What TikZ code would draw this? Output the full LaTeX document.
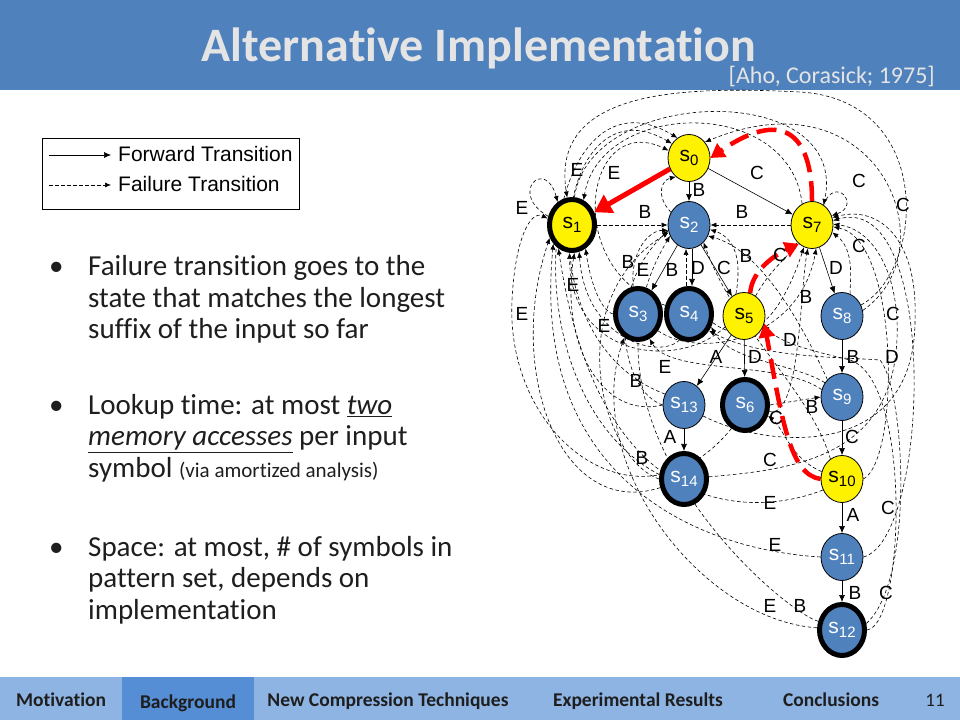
\documentclass[tikz,border=0pt]{standalone}
\usepackage{fontspec}
\setmainfont{Carlito}[Ligatures=NoCommon]
\newfontfamily\arial{Liberation Sans}
\usetikzlibrary{shapes.geometric,arrows.meta,backgrounds}
\pgfdeclarelayer{edges}
\pgfsetlayers{background,edges,main}
\definecolor{hdrblue}{RGB}{79,129,189}
\definecolor{nodeblue}{RGB}{79,129,189}
\definecolor{footblue}{RGB}{142,180,227}
\definecolor{footsel}{RGB}{85,142,213}
\definecolor{titlegray}{RGB}{228,228,228}
\definecolor{bodytext}{RGB}{30,30,30}
\newcommand{\fs}[1]{\fontsize{#1}{#1}\selectfont}
\newcommand{\stl}[1]{{\arial\fs{21}s\raisebox{-4pt}{\fs{15}#1}}}
\begin{document}
\begin{tikzpicture}[x=1pt,y=1pt,
 st/.style={ellipse, draw=black, line width=0.8pt, minimum width=42pt, minimum height=47pt, inner sep=0pt},
 yel/.style={st, fill=yellow},
 blu/.style={st, fill=nodeblue, text=white},
 acc/.style={line width=5pt, minimum width=45pt, minimum height=51pt},
 fw/.style={-{Latex[length=7pt,width=6pt]}, line width=0.6pt},
 fl/.style={-{Latex[length=6pt,width=5pt]}, dash pattern=on 3.5pt off 2.5pt, line width=0.6pt},
 lb/.style={font=\arial\fs{19}, inner sep=0pt},
 redd/.style={draw=red, line width=4.5pt, dash pattern=on 20pt off 9pt, -{Triangle[length=14pt,width=16pt]}},
 reds/.style={draw=red, line width=5pt, -{Triangle[length=17pt,width=20pt]}},
 btxt/.style={anchor=base west, inner sep=0pt, font=\fs{29}, text=bodytext},
 ftxt/.style={anchor=base, inner sep=0pt, font=\bfseries\fs{19.5}, text=bodytext}
]
\useasboundingbox (0,0) rectangle (960,720);
\begin{pgfonlayer}{background}
\fill[white] (0,0) rectangle (960,720);
\fill[hdrblue] (0,630) rectangle (960,720);
\fill[footblue] (0,0) rectangle (960,43);
\fill[footsel] (122,0) rectangle (254,43);
\end{pgfonlayer}
% header
\node[anchor=base, inner sep=0pt, font=\bfseries\fs{48}, text=titlegray] (title) at (479,658) {Alternative Implementation};
\node[anchor=base east, inner sep=0pt, font=\fs{24}, text=titlegray] (cite) at (935,636) {[Aho, Corasick; 1975]};
% footer
\node[ftxt] (f1) at (61,14) {Motivation};
\node[ftxt] (f2) at (188,12) {Background};
\node[ftxt] (f3) at (388,14) {New Compression Techniques};
\node[ftxt] (f4) at (638,14) {Experimental Results};
\node[ftxt] (f5) at (831,14) {Conclusions};
\node[anchor=base, inner sep=0pt, font=\fs{19}, text=bodytext] (f6) at (935,14) {11};
% legend
\node[draw, line width=0.8pt, minimum width=257pt, minimum height=71pt, anchor=north west, inner sep=0pt] (legend) at (42,582) {};
\coordinate (la1) at (49,565);
\coordinate (la2) at (111,565);
\coordinate (lb1) at (49,535);
\coordinate (lb2) at (111,535);
\draw[fw] (la1) -- (la2);
\draw[fl] (lb1) -- (lb2);
\node[anchor=base west, inner sep=0pt, font=\arial\fs{21}] (lt1) at (118,558) {Forward Transition};
\node[anchor=base west, inner sep=0pt, font=\arial\fs{21}] (lt2) at (118,528) {Failure Transition};
% bullets
\node[btxt] (b1) at (49,444) {\textbullet};
\node[btxt] (b2) at (49,305) {\textbullet};
\node[btxt] (b3) at (49,163) {\textbullet};
\node[btxt] (t1) at (88,444) {Failure transition goes to the};
\node[btxt] (t2) at (88,412) {state that matches the longest};
\node[btxt] (t3) at (88,381) {suffix of the input so far};
\node[btxt] (t4) at (88,305) {Lookup time: at most \textit{\underline{two}}};
\node[btxt] (t5) at (88,274) {\textit{\underline{memory accesses}} per input};
\node[btxt] (t6) at (88,242) {symbol {\fs{21}(via amortized analysis)}};
\node[btxt] (t7) at (88,163) {Space: at most, \# of symbols in};
\node[btxt] (t8) at (88,132) {pattern set, depends on};
\node[btxt] (t9) at (88,101) {implementation};
% states
\node[yel] (s0) at (689,562) {\stl{0}};
\node[yel,acc] (s1) at (572,495) {\stl{1}};
\node[blu] (s2) at (689,495) {\stl{2}};
\node[yel] (s7) at (812,495) {\stl{7}};
\node[blu,acc] (s3) at (638,406) {\stl{3}};
\node[blu,acc] (s4) at (689,406) {\stl{4}};
\node[yel] (s5) at (744,404) {\stl{5}};
\node[blu] (s8) at (842,404) {\stl{8}};
\node[blu] (s13) at (684,315) {\stl{13}};
\node[blu,acc] (s6) at (745,315) {\stl{6}};
\node[blu] (s9) at (842,323) {\stl{9}};
\node[blu,acc] (s14) at (684,241) {\stl{14}};
\node[yel] (s10) at (842,241) {\stl{10}};
\node[blu] (s11) at (842,163) {\stl{11}};
\node[blu,acc] (s12) at (842,90) {\stl{12}};
\begin{pgfonlayer}{edges}
% forward transitions
\draw[fw] (s0) -- (s2);
\draw[fw] (s0) -- (s7);
\draw[fw] (s2) -- (s3);
\draw[fw] ([xshift=3pt]s2.south) -- ([xshift=3pt]s4.north);
\draw[fw] (s2) -- (s5);
\draw[fw] (s7) -- (s8);
\draw[fw] (s5) -- (s6);
\draw[fw] (s5) -- (s13);
\draw[fw] (s8) -- (s9);
\draw[fw] (s9) -- (s10);
\draw[fw] (s13) -- (s14);
\draw[fw] (s10) -- (s11);
\draw[fw] (s11) -- (s12);
% failure transitions to the root
\draw[fl] (s2.145) .. controls (655,525) and (662,540) .. (s0.-125);
\draw[fl] (s4.160) .. controls (560,450) and (585,610) .. (s0.160);
\draw[fl] (s13.150) .. controls (520,380) and (555,645) .. (s0.140);
\draw[fl] (s14.170) .. controls (500,330) and (540,665) .. (s0.120);
\draw[fl] (s8.15) .. controls (950,470) and (880,650) .. (s0.45);
% failure transitions: B -> s2
\draw[fl] (s1.east) -- (s2.west);
\draw[fl] (s3.100) .. controls (630,470) and (650,490) .. (s2.195);
\draw[fl] ([xshift=-3pt]s4.north) -- ([xshift=-3pt]s2.south);
\draw[fl] (s5.110) .. controls (742,460) and (735,482) .. (s2.-12);
\draw[fl] (s7.west) -- (s2.east);
\draw[fl] (s9.130) .. controls (800,400) and (760,470) .. (s2.-30);
\draw[fl] (s10.120) .. controls (810,330) and (735,390) .. (s2.-50);
\draw[fl] (s12.160) .. controls (780,110) and (560,300) .. (s2.-150);
\draw[fl] (s13.west) .. controls (620,330) and (605,430) .. (s2.-165);
\draw[fl] (s14.west) .. controls (600,262) and (560,420) .. (s2.200);
% C -> s7
\draw[fl] (s1.85) .. controls (590,635) and (850,640) .. (s7.60);
\draw[fl] (s3.-40) .. controls (700,360) and (800,380) .. (s7.-80);
\draw[fl] (s4.-20) .. controls (760,362) and (790,430) .. (s7.-110);
\draw[fl] (s5.60) .. controls (770,450) and (785,460) .. (s7.-130);
\draw[fl] (s6.-15) .. controls (800,300) and (800,430) .. (s7.-100);
\draw[fl] (s7.60) to[out=70,in=20,looseness=6] (s7.25);
\draw[fl] (s8.70) .. controls (850,440) and (855,470) .. (s7.-20);
\draw[fl] (s10.east) .. controls (900,260) and (900,480) .. (s7.-5);
\draw[fl] (s11.east) .. controls (930,180) and (940,530) .. (s7.12);
\draw[fl] (s13.-30) .. controls (770,270) and (915,260) .. (915,400) .. controls (918,480) and (880,515) .. (s7.20);
\draw[fl] (s14.5) .. controls (790,250) and (880,262) .. (895,360) .. controls (905,430) and (880,490) .. (s7.2);
% E -> s1
\draw[fl] (s1.160) to[out=150,in=105,looseness=7] (s1.122);
\draw[fl] (s7.115) .. controls (790,625) and (600,620) .. (s1.65);
\draw[fl] (s8.30) .. controls (925,450) and (935,620) .. (800,628) .. controls (680,634) and (550,630) .. (s1.100);
\draw[fl] (s3.180) .. controls (600,410) and (590,440) .. (s1.-60);
\draw[fl] (s4.-110) .. controls (660,360) and (585,380) .. (s1.-75);
\draw[fl] (s5.-150) .. controls (680,350) and (570,360) .. (s1.-95);
\draw[fl] (s6.-120) .. controls (640,180) and (505,280) .. (512,420) .. controls (515,480) and (530,510) .. (s1.165);
\draw[fl] (s10.-150) .. controls (760,205) and (600,190) .. (s1.-120);
\draw[fl] (s11.west) .. controls (700,170) and (530,240) .. (s1.-135);
\draw[fl] (s13.180) .. controls (600,300) and (560,380) .. (s1.-85);
\draw[fl] (s14.-160) .. controls (560,200) and (505,350) .. (s1.-150);
% E -> s3, D -> s4/s6, B -> s9, C -> s5
\draw[fl] (s9.160) .. controls (780,360) and (670,345) .. (s3.-65);
\draw[fl] (s12.175) .. controls (700,100) and (580,260) .. (s3.-120);
\draw[fl] (s9.140) .. controls (790,358) and (730,358) .. (s4.-30);
\draw[fl] (s10.160) .. controls (790,262) and (785,290) .. (s6.-25);
\draw[fl] (s12.15) .. controls (915,140) and (905,330) .. (880,360) .. controls (840,363) and (760,362) .. (s4.-40);
\draw[fl] (s6.east) -- (s9.west);
\draw[fl] (s12.0) .. controls (905,95) and (912,340) .. (850,360) .. controls (800,372) and (780,378) .. (s5.-25);
% red lookup path
\draw[redd] (s10.west) .. controls (790,245) and (782,300) .. (s5.-20);
\draw[redd] (s5.75) .. controls (752,450) and (775,465) .. (s7.-125);
\draw[redd] (s7.north) .. controls (812,590) and (780,610) .. (s0.east);
\draw[reds] (s0) -- (s1);
\end{pgfonlayer}
% transition labels
\node[lb] (l1) at (614,547) {E};
\node[lb] (l2) at (577,550) {E};
\node[lb] (l3) at (522,512) {E};
\node[lb] (l4) at (645,508) {B};
\node[lb] (l5) at (699,530) {B};
\node[lb] (l6) at (757,547) {C};
\node[lb] (l7) at (742,508) {B};
\node[lb] (l8) at (859,539) {C};
\node[lb] (l9) at (903,515) {C};
\node[lb] (l10) at (859,474) {C};
\node[lb] (l11) at (780,465) {C};
\node[lb] (l12) at (628,458) {B};
\node[lb] (l13) at (643,450) {E};
\node[lb] (l14) at (672,450) {B};
\node[lb] (l15) at (698,452) {D};
\node[lb] (l16) at (724,452) {C};
\node[lb] (l17) at (746,464) {B};
\node[lb] (l18) at (836,452) {D};
\node[lb] (l19) at (573,435) {E};
\node[lb] (l20) at (522,406) {E};
\node[lb] (l21) at (604,394) {E};
\node[lb] (l22) at (806,423) {B};
\node[lb] (l23) at (893,406) {C};
\node[lb] (l24) at (716,363) {A};
\node[lb] (l25) at (755,363) {D};
\node[lb] (l26) at (790,380) {D};
\node[lb] (l27) at (892,363) {D};
\node[lb] (l28) at (853,363) {B};
\node[lb] (l29) at (665,353) {E};
\node[lb] (l30) at (636,339) {B};
\node[lb] (l31) at (812,313) {B};
\node[lb] (l32) at (776,302) {C};
\node[lb] (l33) at (852,283) {C};
\node[lb] (l34) at (670,283) {A};
\node[lb] (l35) at (642,262) {B};
\node[lb] (l36) at (770,260) {C};
\node[lb] (l37) at (770,217) {E};
\node[lb] (l38) at (853,205) {A};
\node[lb] (l39) at (888,212) {C};
\node[lb] (l40) at (775,175) {E};
\node[lb] (l41) at (855,127) {B};
\node[lb] (l42) at (886,127) {C};
\node[lb] (l43) at (770,114) {E};
\node[lb] (l44) at (800,114) {B};
\end{tikzpicture}
\end{document}
